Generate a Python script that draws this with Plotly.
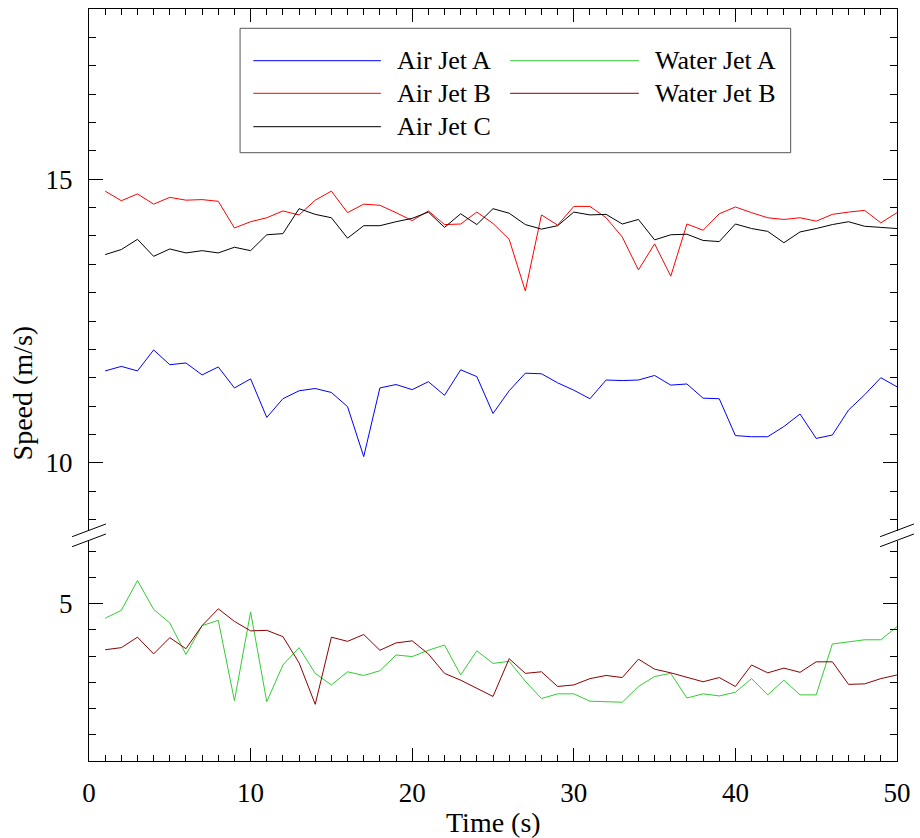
import plotly.graph_objects as go

# ---------------- data ----------------
time_s = list(range(1, 51))

air_jet_a = [11.62, 11.70, 11.62, 11.99, 11.73, 11.76, 11.55, 11.69, 11.32, 11.48,
             10.80, 11.13, 11.27, 11.31, 11.24, 10.99, 10.11, 11.32, 11.38, 11.29,
             11.43, 11.19, 11.64, 11.52, 10.87, 11.27, 11.58, 11.57, 11.41, 11.28,
             11.13, 11.46, 11.45, 11.46, 11.54, 11.37, 11.39, 11.14, 11.13, 10.48,
             10.46, 10.46, 10.64, 10.86, 10.43, 10.49, 10.93, 11.20, 11.50, 11.34]

air_jet_b = [14.79, 14.62, 14.74, 14.56, 14.68, 14.63, 14.64, 14.61, 14.14, 14.25,
             14.32, 14.44, 14.37, 14.63, 14.79, 14.41, 14.56, 14.54, 14.41, 14.27,
             14.44, 14.20, 14.21, 14.42, 14.22, 13.94, 13.03, 14.37, 14.19, 14.52,
             14.52, 14.32, 13.98, 13.40, 13.86, 13.29, 14.21, 14.10, 14.39, 14.51,
             14.41, 14.32, 14.29, 14.32, 14.26, 14.38, 14.42, 14.45, 14.23, 14.41]

air_jet_c = [13.67, 13.76, 13.94, 13.64, 13.77, 13.70, 13.74, 13.70, 13.80, 13.74,
             14.02, 14.04, 14.48, 14.38, 14.32, 13.96, 14.18, 14.18, 14.25, 14.31,
             14.42, 14.15, 14.39, 14.20, 14.48, 14.40, 14.20, 14.12, 14.18, 14.42,
             14.37, 14.38, 14.21, 14.29, 13.93, 14.02, 14.03, 13.92, 13.90, 14.21,
             14.13, 14.08, 13.88, 14.07, 14.13, 14.20, 14.25, 14.17, 14.15, 14.13]

water_jet_a = [4.72, 4.87, 5.44, 4.89, 4.63, 4.03, 4.58, 4.68, 3.15, 4.84,
               3.13, 3.83, 4.16, 3.67, 3.45, 3.70, 3.63, 3.72, 4.02, 3.99,
               4.11, 4.21, 3.64, 4.10, 3.86, 3.90, 3.52, 3.19, 3.28, 3.28,
               3.14, 3.13, 3.12, 3.42, 3.61, 3.67, 3.20, 3.28, 3.24, 3.31,
               3.57, 3.26, 3.54, 3.26, 3.26, 4.23, 4.27, 4.31, 4.31, 4.56]

water_jet_b = [4.12, 4.16, 4.36, 4.04, 4.35, 4.14, 4.58, 4.90, 4.66, 4.48,
               4.49, 4.37, 3.87, 3.08, 4.36, 4.28, 4.41, 4.11, 4.25, 4.29,
               4.04, 3.67, 3.54, 3.38, 3.23, 3.95, 3.67, 3.70, 3.42, 3.45,
               3.57, 3.63, 3.59, 3.94, 3.75, 3.68, 3.60, 3.51, 3.59, 3.42,
               3.83, 3.68, 3.77, 3.69, 3.89, 3.89, 3.46, 3.47, 3.57, 3.64]

upper_names = ["Air Jet A", "Air Jet B", "Air Jet C"]
upper_values = [air_jet_a, air_jet_b, air_jet_c]
upper_colors = ["#0000FF", "#FF0000", "#000000"]

lower_names = ["Water Jet A", "Water Jet B"]
lower_values = [water_jet_a, water_jet_b]
lower_colors = ["#33CC33", "#8B0000"]

x_title = "Time (s)"
y_title = "Speed (m/s)"

# ---------------- layout geometry ----------------
W, H = 920, 838
ML, MR, MT, MB = 89, 18, 9, 77
PW, PH = W - ML - MR, H - MT - MB
FONT = "Liberation Serif"


def px_x(px):
    return (px - ML) / PW


def px_y(py):
    return (H - MB - py) / PH


upper_dom = [px_y(530.9), 1.0]
lower_dom = [0.0, px_y(540.6)]

fig = go.Figure()
for name, vals, col in zip(upper_names, upper_values, upper_colors):
    fig.add_trace(go.Scatter(x=time_s, y=vals, name=name, mode="lines",
                             line=dict(color=col, width=1),
                             xaxis="x", yaxis="y", showlegend=False))
for name, vals, col in zip(lower_names, lower_values, lower_colors):
    fig.add_trace(go.Scatter(x=time_s, y=vals, name=name, mode="lines",
                             line=dict(color=col, width=1),
                             xaxis="x2", yaxis="y2", showlegend=False))

tickfont = dict(family=FONT, size=27, color="black")
common_x = dict(range=[0, 50], dtick=10, tick0=0, ticks="inside", ticklen=13,
                tickcolor="black", tickwidth=1, showgrid=False, zeroline=False,
                showline=True, linecolor="black", linewidth=1,
                minor=dict(dtick=1, ticks="inside", ticklen=6, tickcolor="black",
                           tickwidth=1, showgrid=False),
                tickfont=tickfont)
common_y = dict(dtick=5, tick0=0, ticks="inside", ticklen=14, tickcolor="black",
                tickwidth=1, showgrid=False, zeroline=False, showline=True,
                linecolor="black", linewidth=1, mirror="ticks",
                minor=dict(dtick=0.5, ticks="inside", ticklen=7, tickcolor="black",
                           tickwidth=1, showgrid=False),
                tickfont=tickfont, ticklabelstandoff=10)

fig.update_layout(
    width=W, height=H,
    margin=dict(l=ML, r=MR, t=MT, b=MB),
    paper_bgcolor="white", plot_bgcolor="white",
    xaxis=dict(common_x, anchor="y", side="top", showticklabels=False,
               domain=[0, 1], matches="x2"),
    xaxis2=dict(common_x, anchor="y2", side="bottom", domain=[0, 1],
                ticklabelstandoff=8),
    yaxis=dict(common_y, anchor="x", domain=upper_dom, range=[8.8, 18]),
    yaxis2=dict(common_y, anchor="x2", domain=lower_dom, range=[2, 6.2]),
    showlegend=False,
)

shapes = []
annotations = []

# axis titles
annotations.append(dict(text=y_title, xref="paper", yref="paper",
                        x=px_x(22), y=px_y(393), textangle=-90, showarrow=False,
                        font=dict(family=FONT, size=28, color="black"),
                        xanchor="center", yanchor="middle"))
annotations.append(dict(text=x_title, xref="paper", yref="paper",
                        x=0.5, y=px_y(822), showarrow=False,
                        font=dict(family=FONT, size=28, color="black"),
                        xanchor="center", yanchor="middle"))

# axis-break marks
for xc in (ML, ML + PW):
    for dy in (0, 10):
        shapes.append(dict(type="line", xref="paper", yref="paper",
                           x0=px_x(xc - 17), y0=px_y(536.7 + dy),
                           x1=px_x(xc + 17), y1=px_y(524 + dy),
                           line=dict(color="black", width=1)))

# custom legend (long line samples)
shapes.append(dict(type="rect", xref="paper", yref="paper",
                   x0=px_x(241), x1=px_x(795), y0=px_y(152.7), y1=px_y(28.3),
                   line=dict(color="#555555", width=1), fillcolor="white",
                   layer="above"))
rows_y = [60.7, 93.3, 126.7]
cols = [(254.3, 382.7, 396.7), (512.7, 642.3, 656.7)]
legend_groups = [list(zip(upper_names, upper_colors)), list(zip(lower_names, lower_colors))]
for (lx0, lx1, tx), group in zip(cols, legend_groups):
    for ry, (name, col) in zip(rows_y, group):
        shapes.append(dict(type="line", xref="paper", yref="paper",
                           x0=px_x(lx0), x1=px_x(lx1), y0=px_y(ry), y1=px_y(ry),
                           line=dict(color=col, width=1), layer="above"))
        annotations.append(dict(text=name, xref="paper", yref="paper",
                                x=px_x(tx), y=px_y(ry), showarrow=False,
                                xanchor="left", yanchor="middle",
                                font=dict(family=FONT, size=26, color="black")))

fig.update_layout(shapes=shapes, annotations=annotations)
fig.write_html("out.html")
